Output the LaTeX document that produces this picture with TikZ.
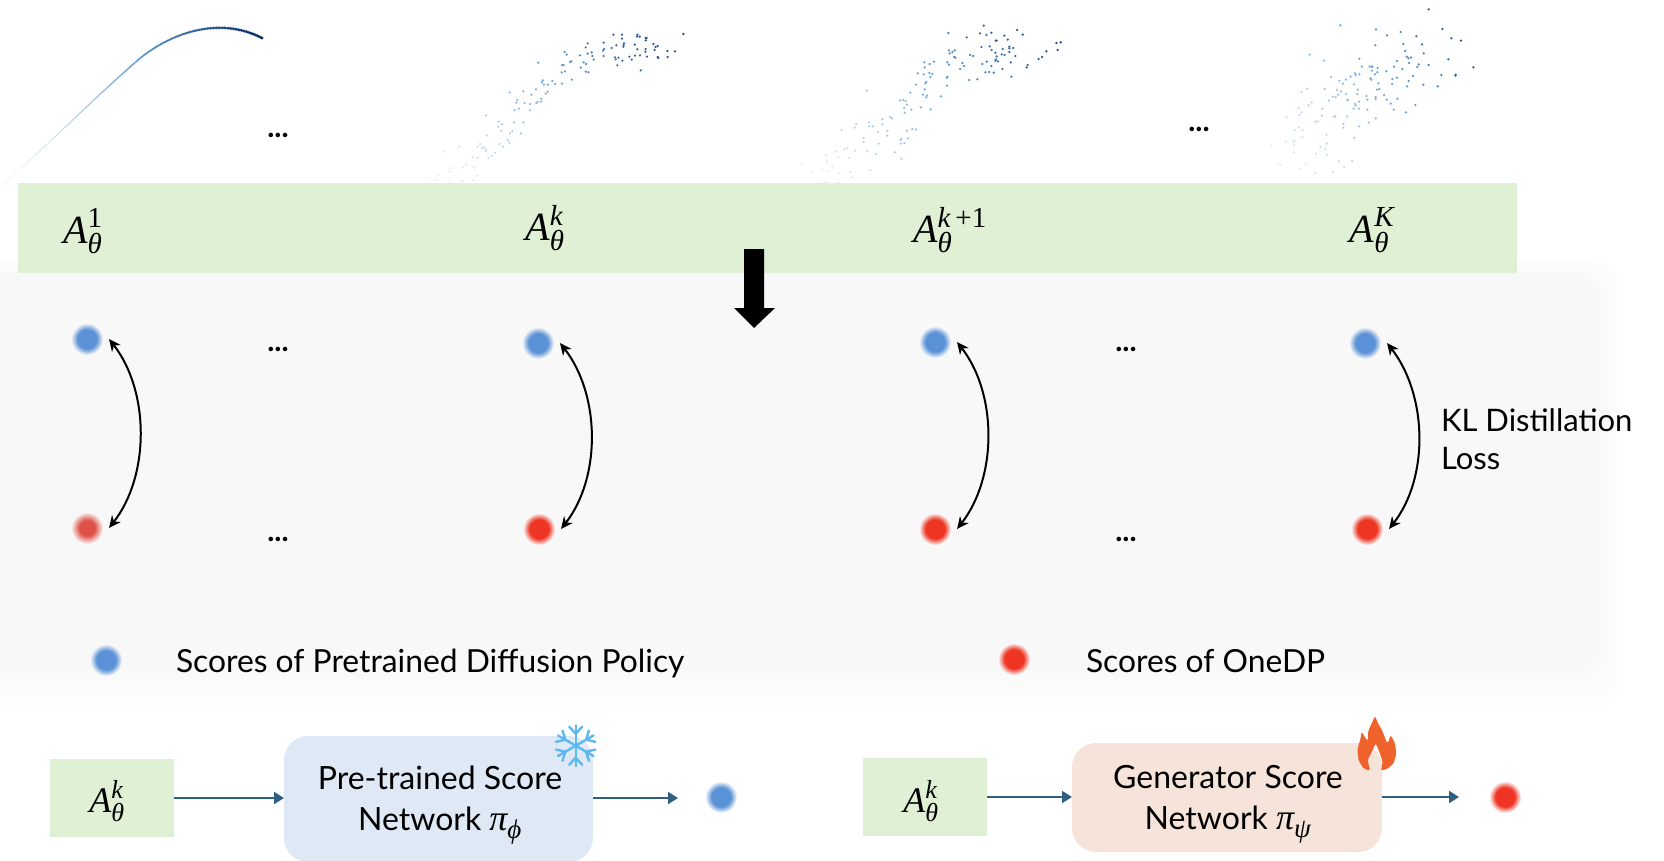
\RequirePackage{fix-cm}
\documentclass[tikz,border=0pt]{standalone}
\usepackage{fontspec}
\setmainfont{Lato}
\newfontfamily\mf{Liberation Serif}
\usetikzlibrary{arrows.meta}
\definecolor{bandgreen}{HTML}{DFF0D4}
\definecolor{panelgray}{HTML}{F8F8F8}
\definecolor{boxblue}{HTML}{DFE8F5}
\definecolor{boxpeach}{HTML}{F6E4DB}
\definecolor{arrowblue}{HTML}{2F5F82}
\definecolor{flakeblue}{HTML}{5CB8F0}
\definecolor{flameorange}{HTML}{F0622B}
\definecolor{dotblue}{HTML}{5B92D6}
\definecolor{dotred}{HTML}{EE3524}
\definecolor{dotpale}{HTML}{E0504A}
\definecolor{clight}{HTML}{F0F5FC}
\definecolor{cmid}{HTML}{5E9CD3}
\definecolor{cdark}{HTML}{0A2C66}
\pgfdeclareradialshading{bluegray}{\pgfpoint{0bp}{0bp}}{color(0bp)=(dotblue);color(15bp)=(dotblue);color(25bp)=(panelgray)}
\pgfdeclareradialshading{redgray}{\pgfpoint{0bp}{0bp}}{color(0bp)=(dotred);color(15bp)=(dotred);color(25bp)=(panelgray)}
\pgfdeclareradialshading{palegray}{\pgfpoint{0bp}{0bp}}{color(0bp)=(dotpale);color(12bp)=(dotpale);color(25bp)=(panelgray)}
\pgfdeclareradialshading{bluewhite}{\pgfpoint{0bp}{0bp}}{color(0bp)=(dotblue);color(15bp)=(dotblue);color(25bp)=(white)}
\pgfdeclareradialshading{redwhite}{\pgfpoint{0bp}{0bp}}{color(0bp)=(dotred);color(15bp)=(dotred);color(25bp)=(white)}
\newcommand\gradset[1]{%
  \pgfmathsetmacro\gt{pow(max(0.001,min(1,#1)),1.35)}%
  \pgfmathsetmacro\gm{\gt<.5 ? 200*\gt : 200*(\gt-.5)}%
  \ifdim\gt pt<.5pt \colorlet{gc}{cmid!\gm!clight}\else\colorlet{gc}{cdark!\gm!cmid}\fi}
\newcommand\cloud[5]{%
  \foreach \px/\py in {#5}{%
    \gradset{.6*\px/#3+.4*(1-\py/#4)}%
    \fill[gc] ({#1+\px/3},{-#2-\py/3}) circle[radius=1.25];}}
\newcommand\curvepart[4]{%
  \foreach \ci in {0,...,#3}{%
    \pgfmathsetmacro\ct{\ci/#3}%
    \pgfmathsetmacro\cu{1-\ct}%
    \gradset{(\ci+#4)/220}%
    \pgfmathsetmacro\rr{.6+1.0*\gt}%
    \foreach \xa/\xb/\xc/\xd in {#1}{\foreach \ya/\yb/\yc/\yd in {#2}{%
      \fill[gc] ({\cu*\cu*\cu*\xa+3*\cu*\cu*\ct*\xb+3*\cu*\ct*\ct*\xc+\ct*\ct*\ct*\xd},{-(\cu*\cu*\cu*\ya+3*\cu*\cu*\ct*\yb+3*\cu*\ct*\ct*\yc+\ct*\ct*\ct*\yd)}) circle[radius=\rr];}}}}
% symbol with raised and lowered scripts: size, symbol, script size, sup, sub
\newcommand\scr[2]{\hbox{\mf\fontsize{#1}{#1}\selectfont #2}}
\newcommand\syl[5]{\mbox{\fontsize{#1}{#1}\selectfont$\hbox{\mf\itshape #2}^{\scr{#3}{#4}}_{\scr{#3}{#5}}$}}
\tikzset{
  x=1pt,y=1pt,
  every node/.style={inner sep=0pt,outer sep=0pt,text=black},
  body/.style={font=\fontsize{32}{38}\selectfont},
  legend/.style={font=\fontsize{31.8}{38}\selectfont},
  klfont/.style={font=\fontsize{31}{38}\selectfont},
  ell/.style={font=\fontsize{30}{30}\selectfont\bfseries},
  dotnode/.style={circle,minimum size=32pt,outer sep=6pt},
  bgray/.style={dotnode,shading=bluegray},
  rgray/.style={dotnode,shading=redgray},
  pgray/.style={dotnode,shading=palegray},
  bwhite/.style={dotnode,shading=bluewhite},
  rwhite/.style={dotnode,shading=redwhite},
  kl/.style={{Stealth[length=12pt,width=11pt]}-{Stealth[length=12pt,width=11pt]},line width=2pt,black,out=-52,in=52,looseness=.9},
  flow/.style={-{Triangle[length=10pt,width=12pt]},line width=2pt,arrowblue},
  inputbox/.style={fill=bandgreen,anchor=center}
}
\begin{document}
\begin{tikzpicture}
\useasboundingbox (0,0) rectangle (1664,-860);
% soft panel
\foreach \i in {0,...,8}{
  \pgfmathsetmacro\c{\i/8*100}
  \fill[panelgray!\c!white] (0,{-257-\i*2}) [rounded corners=30pt] -- ({1627-\i*3.75},{-257-\i*2}) -- ({1627-\i*3.75},{-713+\i*5.4}) [sharp corners] -- (0,{-713+\i*5.4}) -- cycle;
}
% band
\fill[bandgreen] (18,-183) rectangle (1517,-273);
% curve
\curvepart{0/46/92/138}{187/147/100/60}{130}{0}
\curvepart{138/165/215/262}{60/37/14/38}{90}{130}
% clouds
\cloud{420}{20}{790}{490}{790/42,765/94,742/93,743/111,715/114,713/111,681/110,660/106,645/107,628/110,635/119,662/151,607/122,592/136,595/113,587/118,585/112,551/108,549/92,552/87,575/84,589/76,610/80,612/70,611/75,644/74,652/88,677/87,676/95,704/90,707/81,713/78,700/72,677/61,677/54,680/54,659/50,652/44,651/50,606/44,606/56,580/44,551/68,503/70,497/82,515/97,503/101,517/108,521/119,480/106,434/96,440/104,450/126,454/124,426/135,431/135,491/127,498/132,482/143,497/155,505/157,425/157,435/154,355/128,368/181,366/187,372/194,384/194,397/183,405/192,426/191,455/179,269/217,310/214,348/208,334/224,377/221,383/215,364/236,363/245,349/249,353/246,330/252,314/249,291/240,289/248,297/266,284/270,330/271,198/286,236/305,246/313,235/320,282/307,310/307,244/332,277/334,270/340,302/340,201/346,263/360,268/368,239/372,249/380,180/372,173/380,191/382,187/385,197/389,198/394,224/398,215/408,205/415,173/413,158/411,117/380,72/394,139/434,128/442,161/441,91/444,88/455,172/467,56/466,160/480,128/483,91/484,45/478,53/481,21/479}
\cloud{790}{20}{812}{490}{581/17,681/30,698/44,475/39,530/52,570/40,589/45,604/38,643/47,653/59,617/62,620/62,812/67,799/69,803/90,769/94,756/111,746/117,713/135,710/142,574/81,599/79,605/90,616/98,638/87,658/80,658/85,669/84,658/96,635/103,644/105,676/108,620/109,618/118,616/122,624/124,662/127,590/125,577/132,604/138,637/147,586/157,597/156,611/158,664/170,562/178,537/180,477/91,494/91,487/96,479/100,492/111,496/113,540/105,549/108,517/129,522/138,510/147,472/127,477/134,403/127,419/132,432/125,404/142,383/160,401/163,418/159,427/162,421/171,473/171,470/173,409/186,406/190,378/194,471/197,404/208,361/218,399/224,411/227,408/232,453/229,330/241,340/240,347/243,351/254,342/264,364/269,392/262,422/268,344/278,230/212,300/291,306/295,277/298,277/313,237/307,238/319,248/319,194/323,198/312,155/330,264/336,292/333,292/347,351/332,367/327,378/328,354/355,334/357,331/360,333/371,343/369,221/354,221/366,266/371,163/388,172/385,138/394,196/392,232/394,259/402,315/397,334/416,109/405,145/412,177/414,111/425,128/439,34/432,96/448,111/453,65/458,149/459,181/456,241/451,185/472,104/486,115/486,145/486}
\cloud{1260}{0}{640}{520}{506/28,241/76,348/88,547/87,381/106,422/96,469/109,574/115,603/122,346/136,430/132,486/133,435/153,491/160,149/164,192/182,298/176,411/183,440/170,445/175,453/173,447/189,565/178,506/195,476/193,472/201,402/200,427/207,379/214,640/202,305/200,329/200,336/199,337/201,336/212,353/204,352/217,345/223,285/220,287/225,298/223,272/230,213/231,238/242,258/239,249/251,282/253,331/235,334/239,397/237,411/233,459/228,544/225,587/224,586/227,446/243,396/252,355/250,490/254,441/259,533/259,124/276,141/266,194/267,231/270,243/275,235/284,227/291,218/290,207/301,258/282,293/269,292/282,351/269,358/267,319/288,322/299,347/291,347/297,372/285,380/299,262/299,264/301,297/305,285/312,287/316,281/326,297/326,322/329,392/311,412/296,466/315,401/329,438/337,155/307,145/316,116/324,187/326,124/337,118/345,185/347,221/350,226/349,80/351,261/349,347/355,326/368,166/365,173/364,250/372,250/383,297/379,116/383,128/390,104/391,199/404,283/413,127/411,104/422,100/425,77/424,200/431,181/441,102/436,34/437,196/447,101/457,168/461,201/464,237/484,276/483,252/502,137/491,55/494,62/495,120/506,165/519,218/515}
% ellipses top
\node[ell] (e1) at (278,-135) {...};
\node[ell] (e2) at (1199,-129) {...};
% band labels
\node (a1) at (83,-231) {\syl{40}{A}{29}{1}{\itshape θ}};
\node (ak) at (545,-228) {\syl{40}{A}{29}{\itshape k}{\itshape θ}};
\node (ak1) at (950,-230) {\syl{40}{A}{29}{\itshape k\,\upshape +1}{\itshape θ}};
\node (aK) at (1372,-230) {\syl{40}{A}{29}{\itshape K}{\itshape θ}};
% block arrow
\fill[black] (744,-249) -- (764,-249) -- (764,-308) -- (775,-308) -- (754,-328) -- (734,-308) -- (744,-308) -- cycle;
% dots
\node[bgray] (b1) at (87,-339) {};
\node[bgray] (b2) at (538,-343) {};
\node[bgray] (b3) at (935,-342) {};
\node[bgray] (b4) at (1365,-343) {};
\node[pgray] (r1) at (87,-528) {};
\node[rgray] (r2) at (539,-529) {};
\node[rgray] (r3) at (935,-529) {};
\node[rgray] (r4) at (1367,-529) {};
\draw[kl] (b1.east) to (r1.east);
\draw[kl] (b2.east) to (r2.east);
\draw[kl] (b3.east) to (r3.east);
\draw[kl] (b4.east) to (r4.east);
\node[ell] (e3) at (278,-349) {...};
\node[ell] (e4) at (278,-539) {...};
\node[ell] (e5) at (1126,-349) {...};
\node[ell] (e6) at (1126,-539) {...};
\node[klfont,align=left,anchor=west] (kl) at (1441,-439) {KL Distillation\\Loss};
% legend
\node[bgray] (lb) at (106,-660) {};
\node[legend,anchor=base west] (lbt) at (176,-672) {Scores of Pretrained Diffusion Policy};
\node[rgray] (lr) at (1014,-659) {};
\node[legend,anchor=base west] (lrt) at (1086,-672) {Scores of OneDP};
% lower left
\node[inputbox,minimum width=124pt,minimum height=78pt] (i1) at (112,-798) {};
\node (i1t) at (107,-801) {\syl{36}{A}{26}{\itshape k}{\itshape θ}};
\fill[boxblue,rounded corners=24pt] (284,-736) rectangle (593,-862);
\coordinate (n1w) at (284,-798);
\coordinate (n1e) at (593,-798);
\node[bwhite] (d1) at (721,-797) {};
\draw[flow] (i1.east) -- (n1w);
\draw[flow,shorten >=21pt] (n1e) -- (n1e -| d1.west);
\node[body,anchor=base] (n1a) at (440,-789) {Pre-trained Score};
\node[body,anchor=base] (n1b) at (440,-830) {Network \syl{36}{π}{27}{}{\itshape ϕ}};
% snowflake
\begin{scope}[shift={(575.7,-745.7)}]
  \foreach \a in {30,90,...,330}{
    \begin{scope}[rotate=\a]
      \draw[flakeblue,line width=2.4pt,line cap=round] (0,0) -- (20.5,0);
      \draw[flakeblue,line width=2.4pt,line cap=round] (12,0) -- (19,6.5);
      \draw[flakeblue,line width=2.4pt,line cap=round] (12,0) -- (19,-6.5);
    \end{scope}
  }
\end{scope}
% lower right
\node[inputbox,minimum width=124pt,minimum height=78pt] (i2) at (925,-797) {};
\node (i2t) at (921,-801) {\syl{36}{A}{26}{\itshape k}{\itshape θ}};
\fill[boxpeach,rounded corners=24pt] (1072,-743) rectangle (1382,-852);
\coordinate (n2w) at (1072,-797);
\coordinate (n2e) at (1382,-797);
\node[rwhite] (d2) at (1505,-797) {};
\draw[flow] (i2.east) -- (n2w);
\draw[flow,shorten >=24pt] (n2e) -- (d2.west);
\node[body,anchor=base] (n2a) at (1228,-788) {Generator Score};
\node[body,anchor=base] (n2b) at (1228,-829) {Network \syl{36}{π}{27}{}{\itshape ψ}};
% flame
\begin{scope}[shift={(1345,-710)},x=0.3333pt,y=-0.3333pt]
\fill[flameorange,rounded corners=1.5pt] (90,18)--(98,38)--(112,62)--(122,90)--(128,100)--(137,75)--(150,100)--(154,130)--(146,160)--(128,176)--(108,182)--(113,155)--(103,125)--(92,100)--(82,122)--(68,150)--(75,182)--(56,176)--(41,152)--(37,118)--(46,88)--(50,65)--(60,82)--(68,93)--(70,62)--(80,40)--cycle;
\end{scope}
\end{tikzpicture}
\end{document}
